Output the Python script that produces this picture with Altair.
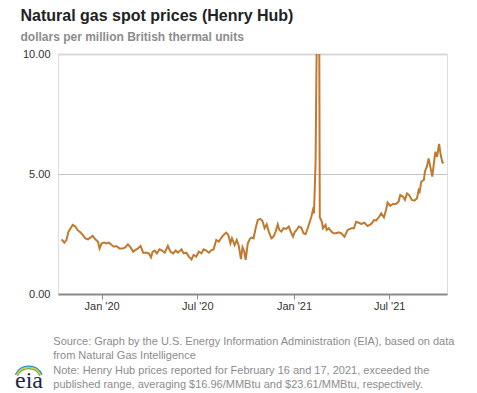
import altair as alt
import pandas as pd

TITLE = "Natural gas spot prices (Henry Hub)"
SUBTITLE = "dollars per million British thermal units"
FOOTER = [
    "Source: Graph by the U.S. Energy Information Administration (EIA), based on data",
    "from Natural Gas Intelligence",
    "Note: Henry Hub prices reported for February 16 and 17, 2021, exceeded the",
    "published range, averaging $16.96/MMBtu and $23.61/MMBtu, respectively.",
]
LOGO = "eia"

dates = [
    "2019-10-17", "2019-10-22", "2019-10-26", "2019-10-30", "2019-11-03", "2019-11-07",
    "2019-11-12", "2019-11-16", "2019-11-22", "2019-11-26", "2019-12-01", "2019-12-06",
    "2019-12-11", "2019-12-15", "2019-12-20", "2019-12-25", "2019-12-28", "2020-01-01",
    "2020-01-06", "2020-01-10", "2020-01-15", "2020-01-20", "2020-01-25", "2020-01-29",
    "2020-02-04", "2020-02-10", "2020-02-15", "2020-02-20", "2020-02-25", "2020-03-01",
    "2020-03-05", "2020-03-10", "2020-03-15", "2020-03-20", "2020-03-26", "2020-03-31",
    "2020-04-04", "2020-04-07", "2020-04-11", "2020-04-15", "2020-04-20", "2020-04-25",
    "2020-04-30", "2020-05-06", "2020-05-11", "2020-05-16", "2020-05-21", "2020-05-25",
    "2020-06-01", "2020-06-05", "2020-06-10", "2020-06-15", "2020-06-20", "2020-06-24",
    "2020-06-29", "2020-07-04", "2020-07-09", "2020-07-13", "2020-07-18", "2020-07-23",
    "2020-07-28", "2020-08-01", "2020-08-06", "2020-08-11", "2020-08-15", "2020-08-20",
    "2020-08-25", "2020-08-29", "2020-09-02", "2020-09-05", "2020-09-10", "2020-09-14",
    "2020-09-18", "2020-09-22", "2020-09-25", "2020-09-28", "2020-10-01", "2020-10-05",
    "2020-10-09", "2020-10-12", "2020-10-16", "2020-10-20", "2020-10-24", "2020-10-29",
    "2020-11-02", "2020-11-06", "2020-11-10", "2020-11-14", "2020-11-19", "2020-11-23",
    "2020-11-27", "2020-12-01", "2020-12-04", "2020-12-08", "2020-12-12", "2020-12-17",
    "2020-12-22", "2020-12-27", "2020-12-30", "2021-01-02", "2021-01-06", "2021-01-10",
    "2021-01-15", "2021-01-19", "2021-01-23", "2021-01-27", "2021-01-31", "2021-02-03",
    "2021-02-06", "2021-02-08", "2021-02-11", "2021-02-12", "2021-02-16", "2021-02-17",
    "2021-02-18", "2021-02-19", "2021-02-23", "2021-02-25", "2021-03-02", "2021-03-04",
    "2021-03-08", "2021-03-13", "2021-03-17", "2021-03-22", "2021-03-27", "2021-04-01",
    "2021-04-07", "2021-04-13", "2021-04-20", "2021-04-25", "2021-04-29", "2021-05-04",
    "2021-05-09", "2021-05-15", "2021-05-21", "2021-05-28", "2021-06-02", "2021-06-06",
    "2021-06-11", "2021-06-16", "2021-06-21", "2021-06-25", "2021-06-28", "2021-07-03",
    "2021-07-08", "2021-07-14", "2021-07-19", "2021-07-22", "2021-07-27", "2021-07-31",
    "2021-08-04", "2021-08-08", "2021-08-13", "2021-08-18", "2021-08-23", "2021-08-26",
    "2021-08-28", "2021-08-31", "2021-09-05", "2021-09-07", "2021-09-11", "2021-09-14",
    "2021-09-17", "2021-09-21", "2021-09-24", "2021-09-27", "2021-09-30", "2021-10-04",
    "2021-10-07", "2021-10-10", "2021-10-12",
]

prices = [
    2.28, 2.14, 2.25, 2.60, 2.74, 2.88,
    2.81, 2.67, 2.56, 2.46, 2.32, 2.28,
    2.36, 2.42, 2.28, 2.18, 1.90, 2.11,
    2.14, 2.11, 2.14, 2.04, 1.97, 2.00,
    1.90, 1.90, 1.94, 2.07, 1.94, 1.76,
    1.83, 1.90, 2.00, 1.72, 1.72, 1.69,
    1.53, 1.76, 1.81, 1.69, 1.86, 1.81,
    1.72, 2.00, 1.76, 1.69, 1.81, 1.72,
    1.86, 1.69, 1.72, 1.56, 1.44, 1.63,
    1.56, 1.76, 1.69, 1.86, 1.81, 1.72,
    1.83, 1.86, 2.25, 2.18, 2.32, 2.46,
    2.56, 2.46, 2.11, 2.32, 2.04, 2.25,
    2.00, 1.45, 1.95, 1.80, 1.42, 2.10,
    2.30, 2.35, 2.32, 2.74, 3.08, 3.13,
    3.04, 2.74, 2.90, 2.60, 2.32, 2.39,
    2.60, 2.90, 2.67, 2.60, 2.74, 2.71,
    2.81, 2.53, 2.39, 2.57, 2.67, 2.81,
    2.76, 2.53, 2.49, 2.74, 3.01, 3.22,
    3.50, 3.36, 5.50, 7.90, 16.96, 23.61,
    10.50, 3.20, 3.01, 2.74, 2.88, 2.67,
    2.74, 2.60, 2.53, 2.53, 2.57, 2.53,
    2.39, 2.67, 2.74, 2.74, 3.01, 2.97,
    2.92, 2.97, 2.83, 2.92, 3.08, 3.06,
    3.19, 3.36, 3.19, 3.50, 3.81, 3.67,
    3.75, 3.75, 3.85, 4.12, 4.06, 3.92,
    4.19, 4.12, 3.92, 3.89, 3.99, 4.33,
    4.26, 4.68, 4.75, 5.10, 5.33, 5.65,
    5.33, 4.89, 5.44, 5.93, 5.72, 6.25,
    5.79, 5.51, 5.44,
]

y_ticks = [0, 5, 10]
y_domain = [0, 10]
x_ticks = ["2020-01-01", "2020-07-01", "2021-01-01", "2021-07-01"]
x_domain = ["2019-10-10", "2021-10-19"]

FONT = "Liberation Sans"
LINE_COLOR = "#C07A30"


def dt(s):
    t = pd.Timestamp(s)
    return alt.DateTime(year=t.year, month=t.month, date=t.day)


df = pd.DataFrame({"date": dates, "price": prices})

W, H = 389, 240

line = alt.Chart(df).mark_line(color=LINE_COLOR, strokeWidth=2, clip=True).encode(
    x=alt.X(
        "date:T",
        scale=alt.Scale(domain=[dt(d) for d in x_domain]),
        axis=alt.Axis(
            values=[dt(d) for d in x_ticks],
            format="%b '%y",
            title=None,
            grid=False,
            domainColor="#8A8A8A",
            domainWidth=2,
            tickColor="#8A8A8A",
            tickWidth=1,
            tickSize=5,
            labelPadding=1,
            labelFontSize=11,
            labelColor="#333333",
            labelFont=FONT,
        ),
    ),
    y=alt.Y(
        "price:Q",
        scale=alt.Scale(domain=y_domain, nice=False),
        axis=alt.Axis(
            values=y_ticks,
            format=".2f",
            title=None,
            domain=False,
            ticks=False,
            labelPadding=8,
            labelFontSize=11,
            labelColor="#333333",
            labelFont=FONT,
            gridColor={"condition": {"test": "datum.value === 10", "value": "#D9D9D9"}, "value": "#C4C4C4"},
            gridWidth={"condition": {"test": "datum.value === 10", "value": 2}, "value": 1},
        ),
    ),
)


def text_layer(txt, x, y, size, color, weight="normal", font=FONT):
    return alt.Chart(pd.DataFrame({"t": [txt]})).mark_text(
        align="left", baseline="alphabetic", font=font, fontSize=size,
        fontWeight=weight, color=color,
    ).encode(text="t:N", x=alt.value(x), y=alt.value(y))


layers = [line]
layers.append(text_layer(TITLE, -37.5, -33.5, 16, "#222222", "bold"))
layers.append(text_layer(SUBTITLE, -37.5, -13.5, 12, "#8C8C8C", "bold"))
footer_y = [290.5, 304.8, 319.8, 334.3]
for txt, fy in zip(FOOTER, footer_y):
    layers.append(text_layer(txt, -4.7, fy, 11, "#8C8C8C"))

# logo
layers.append(text_layer(LOGO, -43, 333.5, 24, "#1B2A3F", "normal", "Liberation Serif"))
arc_colors = ["#5DAE4A", "#F2C21B", "#2B8CC4"]
for i, c in enumerate(arc_colors):
    layers.append(
        alt.Chart(pd.DataFrame({"k": [0]})).mark_arc(
            theta=5.15, theta2=7.42, radius=13 + i * 1.2, radius2=11.8 + i * 1.2, color=c
        ).encode(x=alt.value(-29.3), y=alt.value(327))
    )

chart = alt.layer(*layers).properties(
    width=W,
    height=H,
    autosize=alt.AutoSizeParams(type="none"),
    padding={"left": 50, "top": 46, "right": 22, "bottom": 97},
).configure_view(stroke=None).configure(background="white")

chart.save("out.html", embed_options={"renderer": "svg", "actions": False})
